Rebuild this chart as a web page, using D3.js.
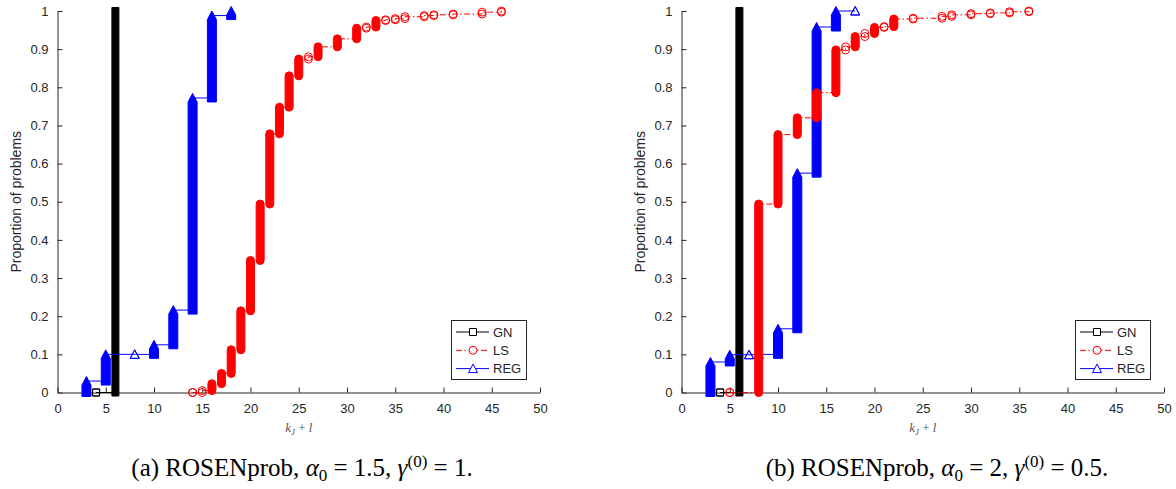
<!DOCTYPE html>
<html>
<head>
<meta charset="utf-8">
<script src="https://cdn.jsdelivr.net/npm/d3@7"></script>
<style>
body { margin: 0; background: #fff; }
svg { display: block; }
</style>
</head>
<body>
<svg id="chart" width="1176" height="489"></svg>
<script>
// tick labels
var xTickValues = [0, 5, 10, 15, 20, 25, 30, 35, 40, 45, 50];
var yTickValues = [0, 0.1, 0.2, 0.3, 0.4, 0.5, 0.6, 0.7, 0.8, 0.9, 1];
var seriesNames = ["GN", "LS", "REG"];

// (a) alpha0 = 1.5, gamma = 1
var gnX_a = [4, 6];
var gnY_a = [0, 1];
var lsX_a = [14, 15, 16, 17, 18, 19, 20, 21, 22, 23, 24, 25, 26, 27, 29, 31, 32, 33, 34, 35, 36, 38, 39, 41, 44, 46];
var lsY_a = [0, 0.005, 0.023, 0.05, 0.112, 0.214, 0.346, 0.494, 0.678, 0.748, 0.83, 0.874, 0.88, 0.906, 0.927, 0.955, 0.958, 0.975, 0.977, 0.98, 0.985, 0.988, 0.99, 0.992, 0.997, 1];
var regX_a = [3, 5, 8, 10, 12, 14, 16, 18];
var regY_a = [0.03, 0.1, 0.1, 0.125, 0.216, 0.772, 0.988, 1];

// (b) alpha0 = 2, gamma = 0.5
var gnX_b = [4, 6];
var gnY_b = [0, 1];
var lsX_b = [5, 8, 10, 12, 14, 16, 17, 18, 19, 20, 21, 22, 24, 27, 28, 30, 32, 34, 36];
var lsY_b = [0, 0.494, 0.676, 0.72, 0.786, 0.898, 0.906, 0.933, 0.941, 0.957, 0.959, 0.979, 0.981, 0.986, 0.99, 0.993, 0.995, 0.998, 1];
var regX_b = [3, 5, 7, 8, 10, 12, 14, 16, 18];
var regY_b = [0.08, 0.099, 0.099, 0.1, 0.167, 0.575, 0.958, 1, 1];

var captionA = { tag: "(a)", alpha: "1.5", gamma: "1" };
var captionB = { tag: "(b)", alpha: "2", gamma: "0.5" };

var svg = d3.select("#chart");
var axisColor = "#262626";

// marker shapes: single hollow marker and the solid stack of many markers
var shapes = {
    square: {
        mark: function(cx, cy) {
            return "M" + (cx - 3.5) + "," + (cy - 3.5) + "h7v7h-7Z";
        },
        bar: function(cx, lo, hi) {
            return "M" + (cx - 3.5) + "," + (hi - 3.5) + "H" + (cx + 3.5) + "V" + (lo + 3.5) + "H" + (cx - 3.5) + "Z";
        }
    },
    circle: {
        mark: function(cx, cy) {
            return "M" + (cx - 4) + "," + cy + "a4,4 0 1,0 8,0a4,4 0 1,0 -8,0";
        },
        bar: function(cx, lo, hi) {
            return "M" + (cx - 4) + "," + hi + "L" + (cx - 4) + "," + lo +
                "A4,4 0 0,0 " + (cx + 4) + "," + lo + "L" + (cx + 4) + "," + hi +
                "A4,4 0 0,0 " + (cx - 4) + "," + hi + "Z";
        }
    },
    triangle: {
        mark: function(cx, cy) {
            return "M" + (cx - 4.5) + "," + (cy + 4) + "L" + (cx + 4.5) + "," + (cy + 4) + "L" + cx + "," + (cy - 4.5) + "Z";
        },
        bar: function(cx, lo, hi) {
            return "M" + (cx - 4.5) + "," + (lo + 4) + "L" + (cx + 4.5) + "," + (lo + 4) +
                "L" + (cx + 4.5) + "," + (hi + 4) + "L" + cx + "," + (hi - 4.5) +
                "L" + (cx - 4.5) + "," + (hi + 4) + "Z";
        }
    }
};

var styles = {
    GN: { color: "#000000", dash: null, shape: "square" },
    LS: { color: "#ff0000", dash: "6,2.5,1.5,2.5", shape: "circle" },
    REG: { color: "#0000ff", dash: null, shape: "triangle" }
};

function drawSeries(g, x, y, xs, ys, st) {
    var pts = xs.map(function(d, i) { return [d, ys[i]]; });
    var line = d3.line()
        .x(function(d) { return x(d[0]); })
        .y(function(d) { return y(d[1]); })
        .curve(d3.curveStepAfter);

    g.append("path")
        .attr("d", line(pts))
        .attr("fill", "none")
        .attr("stroke", st.color)
        .attr("stroke-width", 1)
        .attr("stroke-dasharray", st.dash);

    var shape = shapes[st.shape];
    var prev = 0;
    pts.forEach(function(d) {
        var cx = x(d[0]), lo = y(prev), hi = y(d[1]);
        if (lo - hi < 3.5) {
            // only a problem or two: hollow markers
            [lo, hi].forEach(function(cy) {
                g.append("path")
                    .attr("d", shape.mark(cx, cy))
                    .attr("fill", "none")
                    .attr("stroke", st.color)
                    .attr("stroke-width", 1);
            });
        } else {
            g.append("path")
                .attr("d", shape.bar(cx, lo, hi))
                .attr("fill", st.color)
                .attr("stroke", st.color)
                .attr("stroke-width", 1);
        }
        prev = d[1];
    });
}

function drawLegend(g, left, top) {
    g.append("rect")
        .attr("x", left + 0.5).attr("y", top + 0.5)
        .attr("width", 75).attr("height", 59)
        .attr("fill", "#fff")
        .attr("stroke", axisColor)
        .attr("stroke-width", 1);

    seriesNames.forEach(function(name, i) {
        var st = styles[name];
        var cy = top + 12 + i * 18.3;
        g.append("line")
            .attr("x1", left + 5).attr("x2", left + 38)
            .attr("y1", cy).attr("y2", cy)
            .attr("stroke", st.color)
            .attr("stroke-width", 1)
            .attr("stroke-dasharray", st.dash);
        g.append("path")
            .attr("d", shapes[st.shape].mark(left + 22, cy))
            .attr("fill", "#fff")
            .attr("stroke", st.color)
            .attr("stroke-width", 1);
        g.append("text")
            .attr("x", left + 42)
            .attr("y", cy + 4.5)
            .attr("font-family", "Liberation Sans, Arial, sans-serif")
            .attr("font-size", 13)
            .attr("fill", axisColor)
            .text(name);
    });
}

function drawCaption(cx, cap) {
    var t = svg.append("text")
        .attr("x", cx)
        .attr("y", 476)
        .attr("text-anchor", "middle")
        .attr("font-family", "Liberation Serif, Times New Roman, serif")
        .attr("font-size", 25)
        .attr("fill", "#000");
    t.append("tspan").text(cap.tag + " ROSENprob, ");
    t.append("tspan").attr("font-style", "italic").text("α");
    t.append("tspan").attr("dy", 5).attr("font-size", 17).text("0");
    t.append("tspan").attr("dy", -5).text(" = " + cap.alpha + ", ");
    t.append("tspan").attr("font-style", "italic").text("γ");
    t.append("tspan").attr("dy", -9).attr("font-size", 17).text("(0)");
    t.append("tspan").attr("dy", 9).text(" = " + cap.gamma + ".");
}

function drawPanel(p) {
    var x = d3.scaleLinear().domain([0, 50]).range([p.left, p.right]);
    var y = d3.scaleLinear().domain([0, 1]).range([392.5, 11]);
    var g = svg.append("g");

    var gx = g.append("g")
        .attr("transform", "translate(0," + y(0) + ")")
        .call(d3.axisBottom(x).tickValues(xTickValues).tickSizeInner(-5).tickSizeOuter(0).tickPadding(11));
    var gy = g.append("g")
        .attr("transform", "translate(" + x(0) + ",0)")
        .call(d3.axisLeft(y).tickValues(yTickValues).tickSizeInner(-5).tickSizeOuter(0).tickPadding(9)
            .tickFormat(function(d) { return String(+d.toFixed(1)); }));
    [gx, gy].forEach(function(a) {
        a.attr("color", axisColor)
            .attr("font-family", "Liberation Sans, Arial, sans-serif")
            .attr("font-size", 13);
    });

    g.append("text")
        .attr("transform", "translate(" + (p.left - 37) + "," + ((y(0) + y(1)) / 2) + ") rotate(-90)")
        .attr("text-anchor", "middle")
        .attr("font-family", "Liberation Sans, Arial, sans-serif")
        .attr("font-size", 14)
        .attr("fill", axisColor)
        .text("Proportion of problems");

    var xl = g.append("text")
        .attr("x", (p.left + p.right) / 2)
        .attr("y", 432)
        .attr("text-anchor", "middle")
        .attr("font-family", "Liberation Serif, Times New Roman, serif")
        .attr("font-size", 13)
        .attr("fill", "#555");
    xl.append("tspan").attr("font-style", "italic").text("k");
    xl.append("tspan").attr("font-style", "italic").attr("font-size", 9).attr("dy", 3).text("J");
    xl.append("tspan").attr("dy", -3).text(" + ");
    xl.append("tspan").attr("font-style", "italic").text("l");

    drawSeries(g, x, y, p.gnX, p.gnY, styles.GN);
    drawSeries(g, x, y, p.regX, p.regY, styles.REG);
    drawSeries(g, x, y, p.lsX, p.lsY, styles.LS);

    drawLegend(g, p.right - 89, 320);
    drawCaption(p.captionX, p.caption);
}

drawPanel({ left: 57.5, right: 540, captionX: 302, caption: captionA,
    gnX: gnX_a, gnY: gnY_a, lsX: lsX_a, lsY: lsY_a, regX: regX_a, regY: regY_a });
drawPanel({ left: 681.5, right: 1164, captionX: 937, caption: captionB,
    gnX: gnX_b, gnY: gnY_b, lsX: lsX_b, lsY: lsY_b, regX: regX_b, regY: regY_b });
</script>
</body>
</html>
